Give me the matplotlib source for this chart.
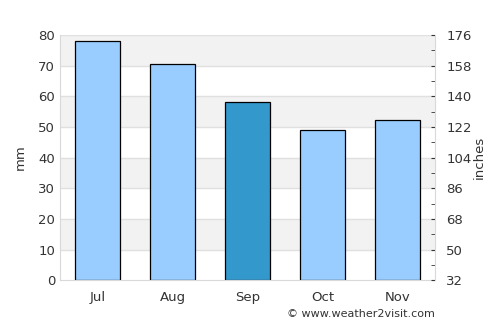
import numpy as np
import matplotlib
matplotlib.use("Agg")
import matplotlib.pyplot as plt

months = ["Jul", "Aug", "Sep", "Oct", "Nov"]
rain_mm = [78.2, 70.5, 58.0, 49.0, 52.2]
highlight = "Sep"
right_ticks = [32, 50, 68, 86, 104, 122, 140, 158, 176]

light = "#99ccff"
dark = "#3399cc"
txt = "#333333"

fig = plt.figure(figsize=(5, 3.25), dpi=100)
ax = fig.add_axes([0.12, 0.138, 0.75, 0.754])

# alternating bands
for lo in range(0, 80, 10):
    if (lo // 10) % 2 == 1:
        ax.axhspan(lo, lo + 10, color="#f2f2f2", zorder=0, lw=0)
for y in range(10, 81, 10):
    ax.axhline(y, color="#e0e0e0", lw=1, zorder=0.5)

x = np.arange(len(months))
cols = [dark if m == highlight else light for m in months]
ax.bar(x, rain_mm, width=0.6, color=cols, edgecolor="black", linewidth=0.9, zorder=2)

ax.set_xlim(-0.5, len(months) - 0.5)
ax.set_ylim(0, 80)
ax.set_yticks(range(0, 81, 10))
ax.set_xticks(x)
ax.set_xticklabels(months)
ax.tick_params(axis="both", length=0, colors=txt, labelsize=9.5)
ax.tick_params(axis="x", pad=7.5)
ax.set_ylabel("mm", color=txt, fontsize=9.5, labelpad=8)
for s in ["top", "right"]:
    ax.spines[s].set_visible(False)
for s in ["left", "bottom"]:
    ax.spines[s].set_color("#d9d9d9")

ax2 = ax.twinx()
ax2.set_ylim(32, 176)
ax2.set_yticks(right_ticks)
ax2.set_yticks([(a + b) / 2 for a, b in zip(right_ticks[:-1], right_ticks[1:])], minor=True)
ax2.tick_params(axis="y", which="both", direction="in", length=3, color="#333333",
                colors=txt, labelsize=9.5, pad=8)
ax2.tick_params(axis="y", which="minor", length=3)
ax2.set_ylabel("inches", color=txt, fontsize=9.5, labelpad=1)
for s in ["top", "left", "bottom"]:
    ax2.spines[s].set_visible(False)
ax2.spines["right"].set_color("#d9d9d9")

fig.text(0.87, 0.035, "© www.weather2visit.com", ha="right", va="center",
         color=txt, fontsize=8)

fig.savefig("out.png", dpi=100)
